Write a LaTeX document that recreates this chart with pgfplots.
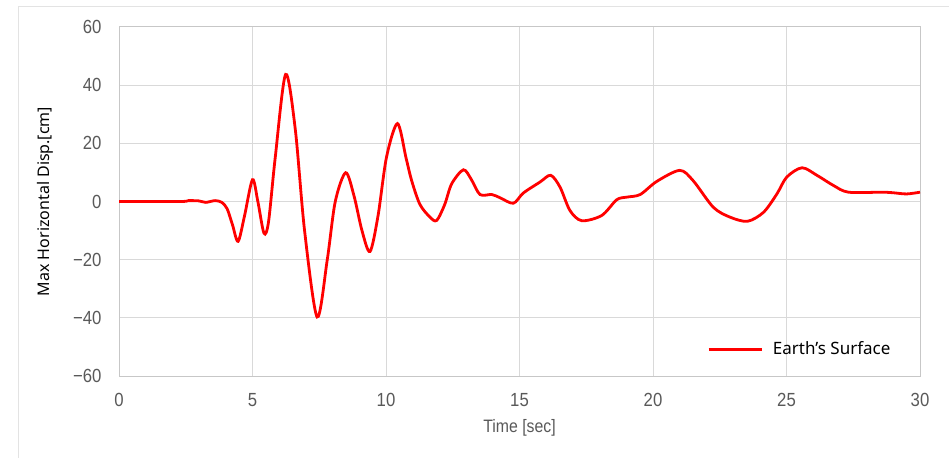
\documentclass[border=0pt]{standalone}
\usepackage{fontspec}
\usepackage{pgfplots}
\pgfplotsset{compat=1.18}
\setmainfont{Noto Sans}
\newfontfamily\tickfont{Liberation Sans}[FakeStretch=0.88]
\newfontfamily\labfont{Noto Sans}
\definecolor{gridc}{HTML}{D9D9D9}
\definecolor{tickc}{HTML}{595959}
\definecolor{framec}{HTML}{E3E3E3}
\begin{document}
\begin{tikzpicture}[x=1pt,y=1pt]
\path[use as bounding box] (0,0) rectangle (949,458);
\draw[framec, line width=1pt] (18,0) -- (18,451) -- (949,451);
\begin{axis}[
  at={(119pt,82pt)}, anchor=south west,
  scale only axis, width=801pt, height=349pt,
  xmin=0, xmax=30, ymin=-60, ymax=60,
  xtick={0,5,...,30}, ytick={-60,-40,...,60},
  yticklabels={−60,−40,−20,0,20,40,60},
  grid=major,
  major grid style={gridc, line width=1pt},
  axis line style={gridc!80!gray, line width=1pt},
  tick style={draw=none},
  ticklabel style={font=\tickfont\fontsize{19}{19}\selectfont, text=tickc},
  /pgf/number format/assume math mode=true,
  xticklabel style={yshift=-14pt},
  yticklabel style={xshift=-14pt},
  xlabel={Time [sec]},
  xlabel style={font=\tickfont\fontsize{18}{18}\selectfont, text=tickc, at={(rel axis cs:0.5,-0.149)}, anchor=center},
  ylabel={Max Horizontal Disp.[cm]},
  ylabel style={font=\labfont\fontsize{16}{16}\selectfont, text=black, at={(rel axis cs:-0.0924,0.5)}, anchor=center},
  legend style={draw=none, fill=none, at={(rel axis cs:0.734,0.077)}, anchor=west, inner sep=0pt,
    nodes={inner sep=0pt, font=\labfont\fontsize{17}{17}\selectfont}},
  legend image code/.code={\draw[#1] (0pt,0pt) -- (53pt,0pt);},
  legend cell align=left,
]
\addplot[red, line width=2.8pt, smooth, tension=0.5] coordinates {
(0,0) (2.3,0) (2.6,0.3) (3.0,0.2) (3.25,-0.3) (3.6,0.3) (3.85,-0.3) (4.05,-2.5) (4.25,-8)
(4.46,-13.7) (4.7,-5) (5.0,7.5) (5.2,0) (5.43,-10.9) (5.6,-7) (5.85,15) (6.24,43.7)
(6.6,25) (6.95,-10) (7.42,-39.7) (7.8,-20) (8.1,0) (8.49,9.9) (8.8,2) (9.1,-10)
(9.40,-17.2) (9.7,-5) (10.02,15.3) (10.43,26.8) (10.75,15) (10.96,7.2) (11.27,-1)
(11.65,-5.4) (11.9,-6.5) (12.2,-1) (12.46,6.1) (12.9,10.9) (13.2,7.5) (13.52,2.4)
(13.96,2.4) (14.27,1.3) (14.77,-0.6) (15.14,2.9) (15.77,6.7) (16.17,9.0) (16.52,4.9)
(16.89,-3.1) (17.33,-6.6) (18.08,-4.8) (18.64,0.6) (19.02,1.5) (19.52,2.4) (20.14,6.9)
(21.0,10.7) (21.5,7.2) (22.26,-2) (22.89,-5.4) (23.54,-6.8) (24.14,-3.7) (24.64,2.6)
(25.01,8.4) (25.58,11.6) (26.14,9.0) (26.76,5.5) (27.32,3.2) (28.58,3.2) (29.0,3.0)
(29.5,2.6) (30.0,3.2)
};
\addlegendentry{\hspace{10pt}Earth’s Surface}
\end{axis}
\end{tikzpicture}
\end{document}
